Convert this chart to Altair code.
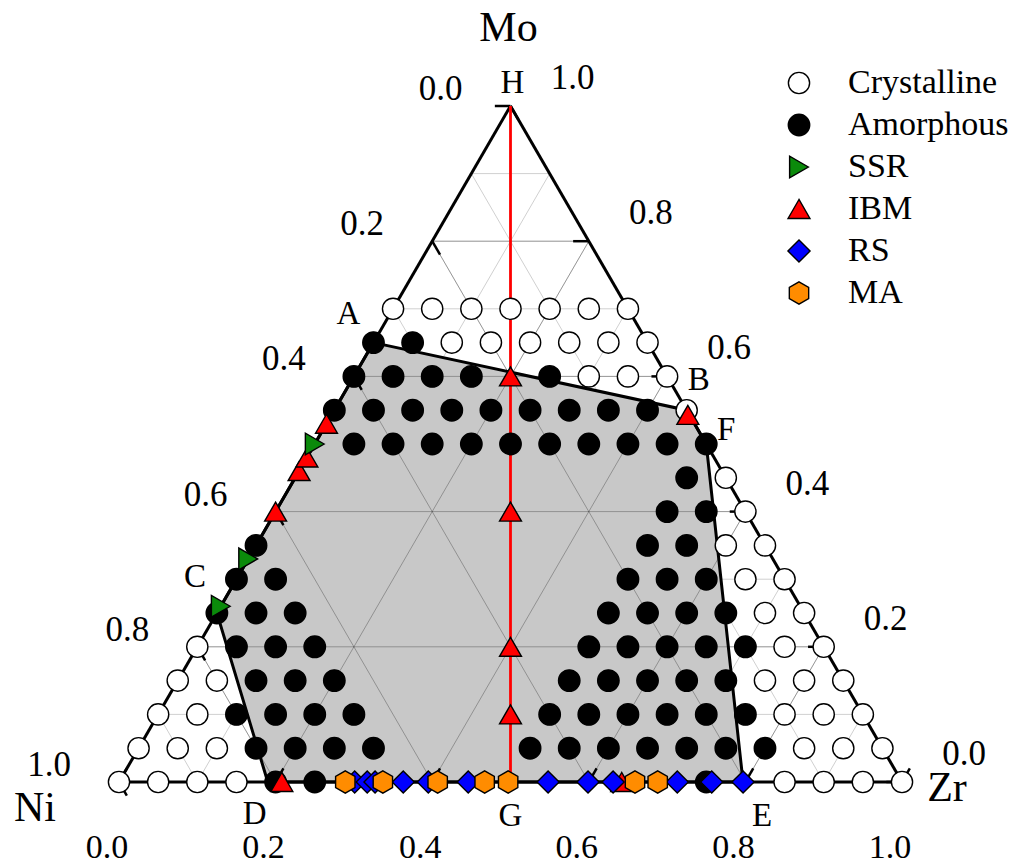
import altair as alt
import pandas as pd

FONT = "Liberation Serif"

# ---------------- data ----------------
PHASES = ["Crystalline", "Amorphous", "SSR", "IBM", "RS", "MA"]
FILLS = ["#ffffff", "#000000", "#0b8a0b", "#ff0000", "#0000ff", "#ff8c00"]
HEX = "M0,-1L0.866,-0.5L0.866,0.5L0,1L-0.866,0.5L-0.866,-0.5Z"
SHAPES = ["circle", "circle", "triangle-right", "triangle-up", "diamond", HEX]
SIZES = [450, 500, 560, 640, 700, 600]

STEP = 0.05  # grid step of the composition grid (Mo row index i, Zr column index j)
CRYSTALLINE_ROWS = {
    0: [0, 1, 2, 3, 17, 18, 19, 20],
    1: [0, 1, 2, 17, 18, 19],
    2: [0, 1, 16, 17, 18],
    3: [0, 1, 15, 16, 17],
    4: [0, 15, 16],
    5: [14, 15],
    6: [13, 14],
    7: [12, 13],
    8: [12],
    9: [11],
    11: [9],
    12: [6, 7, 8],
    13: [2, 3, 4, 5, 6, 7],
    14: [0, 1, 2, 3, 4, 5, 6],
}
AMORPHOUS_ROWS = {
    0: [4, 5, 15],
    1: [3, 4, 5, 6, 10, 11, 12, 13, 14, 15, 16],
    2: [2, 3, 4, 5, 10, 11, 12, 13, 14, 15],
    3: [2, 3, 4, 10, 11, 12, 13, 14],
    4: [1, 2, 3, 10, 11, 12, 13, 14],
    5: [0, 1, 2, 10, 11, 12, 13],
    6: [0, 1, 10, 11, 12],
    7: [0, 10, 11],
    8: [10, 11],
    9: [10],
    10: [1, 2, 3, 4, 5, 6, 7, 8, 9, 10],
    11: [0, 1, 2, 3, 4, 5, 6, 7, 8],
    12: [0, 1, 2, 3, 5],
    13: [0, 1],
}
IBM_MO = [0.40, 0.46, 0.48, 0.53, 0.60, 0.40, 0.20, 0.10, 0.543, 0.0, 0.0]
IBM_ZR = [0.0, 0.0, 0.0, 0.0, 0.20, 0.30, 0.40, 0.45, 0.455, 0.208, 0.642]
SSR_MO = [0.26, 0.33, 0.50]
SSR_ZR = [0.0, 0.0, 0.0]
RS_ZR = [0.301, 0.317, 0.327, 0.363, 0.395, 0.446, 0.548, 0.599, 0.631, 0.713, 0.757, 0.797]
MA_ZR = [0.289, 0.337, 0.407, 0.467, 0.497, 0.659, 0.688]

# glass-forming region A-B-F-E-D-C-A  (Mo, Zr)
REGION_MO = [0.65, 0.55, 0.50, 0.0, 0.0, 0.25, 0.65]
REGION_ZR = [0.0, 0.45, 0.50, 0.797, 0.19, 0.0, 0.0]
REGION_NAMES = ["A", "B", "F", "E", "D", "C"]

GRID_MINOR = [0.1, 0.2, 0.3, 0.4, 0.5, 0.6, 0.7, 0.8, 0.9]
GRID_MAJOR = [0.2, 0.4, 0.6, 0.8]
TICKS = [0.0, 0.2, 0.4, 0.6, 0.8, 1.0]
TICK_TEXT = ["0.0", "0.2", "0.4", "0.6", "0.8", "1.0"]
TICK_LEN = 0.02


def xy(mo, zr):
    return zr + mo / 2.0, mo


# ---------------- scales ----------------
XS = alt.Scale(domain=[-119 / 783, (1012 - 119) / 783], nice=False, zero=False)
YS = alt.Scale(domain=[-83 / 676, -83 / 676 + 865 / 676], nice=False, zero=False)


def X(f="x"):
    return alt.X(f"{f}:Q", scale=XS, axis=None)


def Y(f="y"):
    return alt.Y(f"{f}:Q", scale=YS, axis=None)


# ---------------- segments ----------------
def segs(values):
    out = []
    for v in values:
        for a, b in [((v, 0.0), (v, 1 - v)),          # const Mo
                     ((0.0, v), (1 - v, v)),          # const Zr
                     ((1 - v, 0.0), (0.0, 1 - v))]:   # const Ni
            x1, y1 = xy(*a)
            x2, y2 = xy(*b)
            out.append(dict(x=x1, y=y1, x2=x2, y2=y2))
    return pd.DataFrame(out)


def rules(df, color, width, opacity=1.0):
    return alt.Chart(df).mark_rule(color=color, strokeWidth=width, opacity=opacity).encode(
        x=X(), y=Y(), x2="x2:Q", y2="y2:Q")


minor = rules(segs(GRID_MINOR), "#d0d0d0", 1)
major = rules(segs(GRID_MAJOR), "#000000", 1, 0.28)

edge_pts = [xy(0, 0), xy(0, 1), xy(1, 0)]
edges = pd.DataFrame([dict(x=edge_pts[k][0], y=edge_pts[k][1],
                           x2=edge_pts[(k + 1) % 3][0], y2=edge_pts[(k + 1) % 3][1]) for k in range(3)])
frame = rules(edges, "black", 3)

tick_rows = []
for v in TICKS:
    a, b = xy(0, v), xy(TICK_LEN, v)                       # bottom (Zr)
    tick_rows.append(dict(x=a[0], y=a[1], x2=b[0], y2=b[1]))
    a, b = xy(v, 1 - v), xy(v, 1 - v - TICK_LEN)           # right (Mo)
    tick_rows.append(dict(x=a[0], y=a[1], x2=b[0], y2=b[1]))
    a, b = xy(1 - v, 0), xy(1 - v - TICK_LEN, TICK_LEN)     # left (Ni)
    tick_rows.append(dict(x=a[0], y=a[1], x2=b[0], y2=b[1]))
ticks = rules(pd.DataFrame(tick_rows), "black", 2.5)

red_a, red_b = xy(1.0, 0.0), xy(0.0, 0.5)
red_line = rules(pd.DataFrame([dict(x=red_a[0], y=red_a[1], x2=red_b[0], y2=red_b[1])]), "#ff0000", 2.8)

# ---------------- region polygon ----------------
region = pd.DataFrame([dict(x=xy(m, z)[0], y=xy(m, z)[1], k=k)
                       for k, (m, z) in enumerate(zip(REGION_MO, REGION_ZR))])
region_fill = alt.Chart(region).mark_line(fill="#c8c8c8", stroke="black", strokeWidth=3,
                                          strokeJoin="miter").encode(
    x=X(), y=Y(), order="k:Q")

# ---------------- points ----------------
pts = []


def add(phase, mo, zr):
    x, y = xy(mo, zr)
    pts.append(dict(phase=phase, x=x, y=y))


for i, js in CRYSTALLINE_ROWS.items():
    for j in js:
        add("Crystalline", i * STEP, j * STEP)
for i, js in AMORPHOUS_ROWS.items():
    for j in js:
        add("Amorphous", i * STEP, j * STEP)
for m, z in zip(IBM_MO, IBM_ZR):
    add("IBM", m, z)
for m, z in zip(SSR_MO, SSR_ZR):
    add("SSR", m, z)
for z in RS_ZR:
    add("RS", 0.0, z)
for z in MA_ZR:
    add("MA", 0.0, z)
pts = pd.DataFrame(pts)

leg = alt.Legend(title=None, orient="none", legendX=782, legendY=66, padding=0,
                 labelFont=FONT, labelFontSize=34, labelColor="black", labelOffset=32,
                 labelLimit=0, rowPadding=8, symbolStrokeWidth=1.4)
points = alt.Chart(pts).mark_point(filled=True, strokeWidth=1.4, opacity=1).encode(
    x=X(), y=Y(),
    fill=alt.Fill("phase:N", scale=alt.Scale(domain=PHASES, range=FILLS), legend=leg),
    stroke=alt.Stroke("phase:N", scale=alt.Scale(domain=PHASES, range=["#000000"] * 6), legend=leg),
    shape=alt.Shape("phase:N", scale=alt.Scale(domain=PHASES, range=SHAPES), legend=leg),
    size=alt.Size("phase:N", scale=alt.Scale(domain=PHASES, range=SIZES), legend=leg),
)


# ---------------- text ----------------
def text_layer(rows, dx, dy, size):
    return alt.Chart(pd.DataFrame(rows)).mark_text(
        font=FONT, fontSize=size, color="black", dx=dx, dy=dy, align="center", baseline="middle"
    ).encode(x=X(), y=Y(), text="t:N")


left_lab = text_layer([dict(x=xy(1 - v, 0)[0], y=xy(1 - v, 0)[1], t=t) for v, t in zip(TICKS, TICK_TEXT)], -70, -17, 35)
right_lab = text_layer([dict(x=xy(v, 1 - v)[0], y=xy(v, 1 - v)[1], t=t) for v, t in zip(TICKS, TICK_TEXT)], 62, -28, 35)
bottom_lab = text_layer([dict(x=xy(0, v)[0], y=xy(0, v)[1], t=t) for v, t in zip(TICKS, TICK_TEXT)], -12, 66, 34)

corner = {n: xy(m, z) for n, m, z in zip(REGION_NAMES, REGION_MO[:-1], REGION_ZR[:-1])}
corner["G"] = xy(0.0, 0.5)
corner["H"] = xy(1.0, 0.0)
letter_offsets = {"A": (-25, -29), "B": (12, -30), "F": (20, -14), "E": (19, 34),
                  "D": (-13, 32), "C": (-22, -36), "G": (0, 34), "H": (2, -23)}
letters = [text_layer([dict(x=corner[n][0], y=corner[n][1], t=n)], dx, dy, 33)
           for n, (dx, dy) in letter_offsets.items()]

titles = [
    text_layer([dict(x=xy(1, 0)[0], y=xy(1, 0)[1], t="Mo")], -2, -78, 42),
    text_layer([dict(x=xy(0, 0)[0], y=xy(0, 0)[1], t="Ni")], -84, 26, 42),
    text_layer([dict(x=xy(0, 1)[0], y=xy(0, 1)[1], t="Zr")], 45, 6, 42),
]

chart = alt.layer(
    minor, region_fill, major, frame, ticks, red_line, points,
    left_lab, right_lab, bottom_lab, *letters, *titles
).properties(
    width=1012, height=865, autosize=alt.AutoSizeParams(type="none"), padding=0,
    background="white"
).configure_view(stroke=None)

chart.save("out.html", embed_options={"renderer": "svg", "actions": False})
